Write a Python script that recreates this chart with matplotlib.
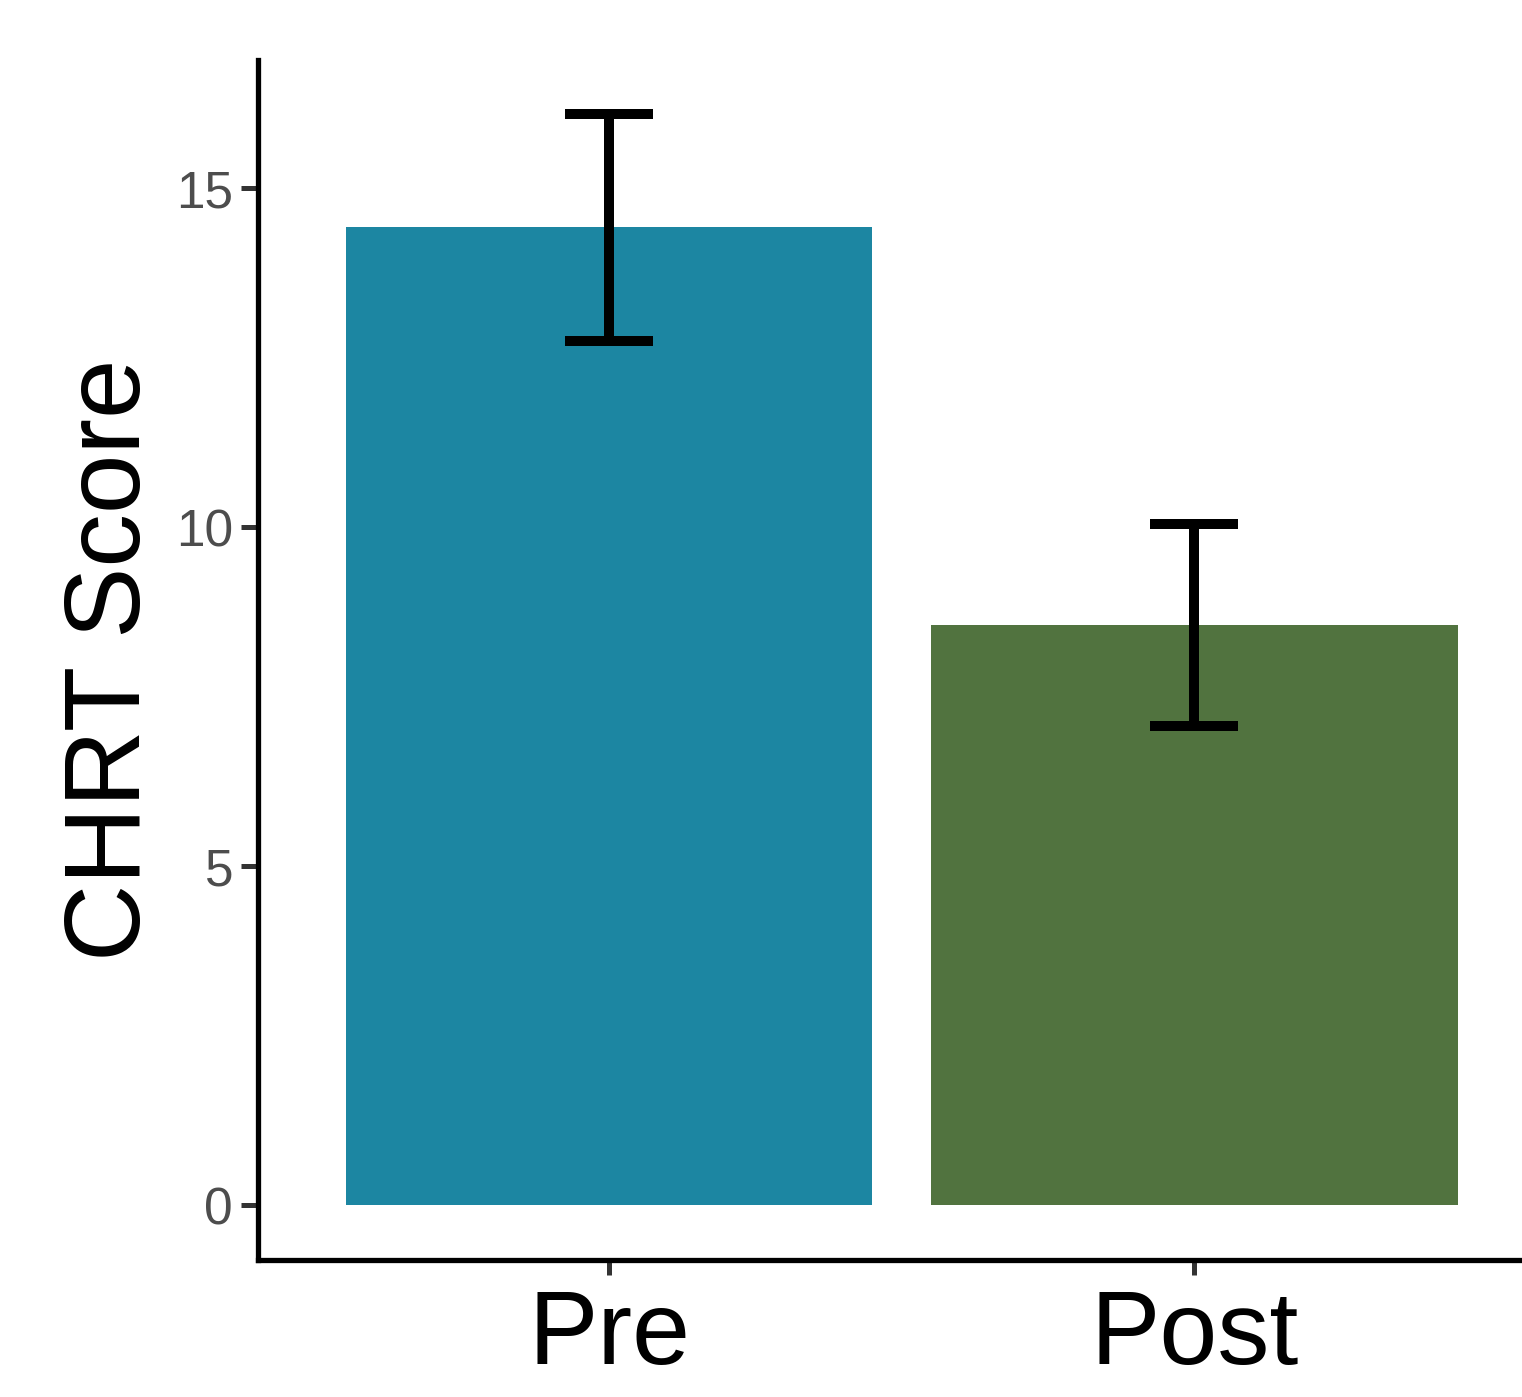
import numpy as np
import matplotlib
matplotlib.use('Agg')
import matplotlib.pyplot as plt

plt.rcParams['font.family'] = ['Liberation Sans', 'DejaVu Sans']

# Dados
grupos = ['Pre', 'Post']
medias = [14.42, 8.55]
erro_inferior = [12.75, 7.06]
erro_superior = [16.1, 10.05]
cores = ['#1C86A2', '#51733F']

x = np.arange(1, len(grupos) + 1)
yerr = [np.array(medias) - np.array(erro_inferior),
        np.array(erro_superior) - np.array(medias)]

fig = plt.figure(figsize=(15.22, 13.97), dpi=100)
ax = fig.add_axes([258 / 1522, 1 - 1260 / 1397, 1 - 258 / 1522, (1260 - 60) / 1397])

ax.bar(x, medias, width=0.9, color=cores, zorder=1)
ax.errorbar(x, medias, yerr=yerr, fmt='none', ecolor='black',
            elinewidth=7.2, capsize=31.5, capthick=7.2, zorder=2)

ax.set_xlim(0.4, 2.56)
ax.set_ylim(-0.81, 16.89)
ax.set_xticks(x)
ax.set_xticklabels(grupos, fontsize=75)
ax.set_yticks([0, 5, 10, 15])
ax.set_yticklabels(['0', '5', '10', '15'], fontsize=37, color='#4D4D4D')

for lado in ['top', 'right']:
    ax.spines[lado].set_visible(False)
for lado in ['left', 'bottom']:
    ax.spines[lado].set_linewidth(3.8)
    ax.spines[lado].set_capstyle('projecting')

ax.tick_params(axis='y', length=12, width=3.6, color='#333333', pad=6)
ax.tick_params(axis='x', length=11, width=3.6, color='#333333', pad=10)

ax.set_ylabel('CHRT Score', fontsize=77, labelpad=10)

plt.savefig('out.png', dpi=100)
